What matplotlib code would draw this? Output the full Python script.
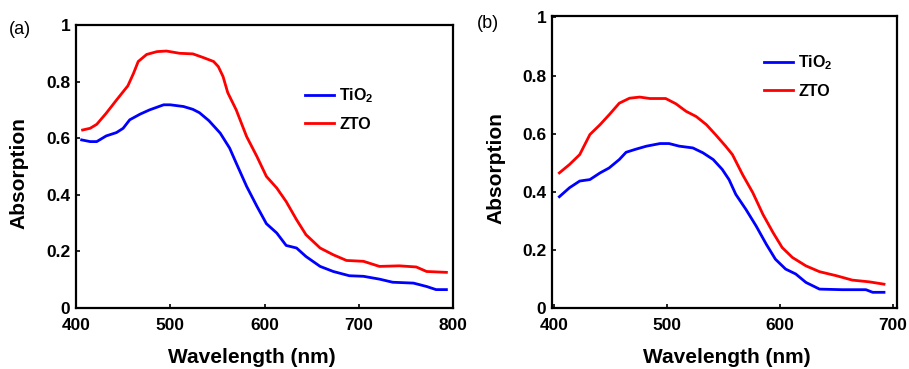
import matplotlib
matplotlib.use("Agg")
import matplotlib.pyplot as plt

plt.rcParams['font.family'] = ['Liberation Sans', 'DejaVu Sans']

# Panel (a) data
wl_a_tio2 = [406, 415, 422, 432, 443, 450, 457, 468, 478, 493, 500, 514, 524, 531, 541, 553, 563,
             570, 581, 592, 602, 613, 623, 634, 644, 659, 673, 690, 705, 722, 736, 758, 772, 782, 793]
abs_a_tio2 = [0.594, 0.588, 0.588, 0.608, 0.620, 0.635, 0.665, 0.685, 0.700, 0.718, 0.718, 0.712,
              0.702, 0.690, 0.662, 0.618, 0.565, 0.512, 0.430, 0.359, 0.298, 0.265, 0.221, 0.212,
              0.182, 0.147, 0.129, 0.114, 0.112, 0.102, 0.091, 0.088, 0.076, 0.065, 0.065]
wl_a_zto = [407, 415, 422, 432, 443, 455, 461, 466, 475, 486, 496, 510, 524, 535, 546, 551, 556,
            561, 570, 581, 592, 602, 613, 623, 634, 644, 659, 673, 687, 705, 722, 743, 761, 772, 793]
abs_a_zto = [0.629, 0.635, 0.649, 0.688, 0.735, 0.785, 0.829, 0.871, 0.896, 0.906, 0.908, 0.900,
             0.898, 0.885, 0.871, 0.853, 0.818, 0.761, 0.700, 0.606, 0.535, 0.465, 0.424, 0.376,
             0.312, 0.259, 0.212, 0.188, 0.168, 0.165, 0.147, 0.149, 0.145, 0.129, 0.126]

# Panel (b) data
wl_b_tio2 = [405, 414, 423, 432, 441, 449, 458, 464, 473, 482, 494, 502, 511, 523, 532, 541, 549,
             555, 561, 570, 579, 588, 596, 605, 614, 623, 635, 655, 676, 682, 692]
abs_b_tio2 = [0.383, 0.414, 0.437, 0.442, 0.465, 0.482, 0.511, 0.536, 0.547, 0.557, 0.566, 0.566,
              0.557, 0.551, 0.534, 0.511, 0.477, 0.442, 0.391, 0.339, 0.282, 0.219, 0.168, 0.134,
              0.117, 0.088, 0.065, 0.063, 0.063, 0.054, 0.054]
wl_b_zto = [405, 414, 423, 432, 441, 449, 458, 467, 476, 485, 499, 508, 517, 526, 535, 543, 552,
            558, 567, 576, 585, 594, 602, 611, 623, 635, 650, 664, 679, 692]
abs_b_zto = [0.465, 0.494, 0.528, 0.597, 0.631, 0.665, 0.705, 0.722, 0.726, 0.721, 0.721, 0.703,
             0.677, 0.659, 0.631, 0.597, 0.557, 0.528, 0.459, 0.397, 0.322, 0.259, 0.208, 0.174,
             0.145, 0.125, 0.111, 0.096, 0.090, 0.082]

yticks = [0, 0.2, 0.4, 0.6, 0.8, 1]
ytick_labels = ['0', '0.2', '0.4', '0.6', '0.8', '1']
labels = ['TiO$_\\mathregular{2}$', 'ZTO']
colors = ['#0000ff', '#ff0000']

fig = plt.figure(figsize=(9.09, 3.69), dpi=100)
ax_a = fig.add_axes([76/909, 1-308/369, 377/909, 283/369])
ax_b = fig.add_axes([552/909, 1-308/369, 345/909, 292/369])

panels = [
    (ax_a, wl_a_tio2, abs_a_tio2, wl_a_zto, abs_a_zto, (400, 800), [400, 500, 600, 700, 800], (0, 1.0),
     (0.607, 0.784), (-0.127, 0.477), (0.467, -0.141)),
    (ax_b, wl_b_tio2, abs_b_tio2, wl_b_zto, abs_b_zto, (398.5, 703.5), [400, 500, 600, 700], (0, 1.005),
     (0.614, 0.872), (-0.136, 0.48), (0.507, -0.137)),
]

for ax, x1, y1, x2, y2, xlim, xt, ylim, leg_anchor, ylc, xlc in panels:
    ax.plot(x1, y1, color=colors[0], lw=2.0, label=labels[0])
    ax.plot(x2, y2, color=colors[1], lw=2.0, label=labels[1])
    ax.set_xlim(*xlim)
    ax.set_ylim(*ylim)
    ax.set_xticks(xt)
    ax.set_xticklabels([str(v) for v in xt], fontsize=12.5, fontweight='bold')
    ax.set_yticks(yticks)
    ax.set_yticklabels(ytick_labels, fontsize=12.5, fontweight='bold')
    ax.tick_params(direction='in', length=3, width=1.2, pad=4)
    ax.tick_params(axis='x', pad=7)
    for s in ax.spines.values():
        s.set_linewidth(1.6)
    ax.set_ylabel('Absorption', fontsize=15, fontweight='bold')
    ax.set_xlabel('Wavelength (nm)', fontsize=15, fontweight='bold')
    ax.yaxis.set_label_coords(*ylc)
    ax.xaxis.set_label_coords(*xlc)
    leg = ax.legend(loc='upper left', bbox_to_anchor=leg_anchor, frameon=False,
                    borderpad=0, borderaxespad=0, handlelength=1.8, handletextpad=0.35,
                    labelspacing=0.75, prop={'size': 11.5, 'weight': 'bold'})

fig.text(20/909, 1-30/369, '(a)', fontsize=13, ha='center', va='center')
fig.text(488/909, 1-23/369, '(b)', fontsize=13, ha='center', va='center')

fig.savefig('out.png', dpi=100)
